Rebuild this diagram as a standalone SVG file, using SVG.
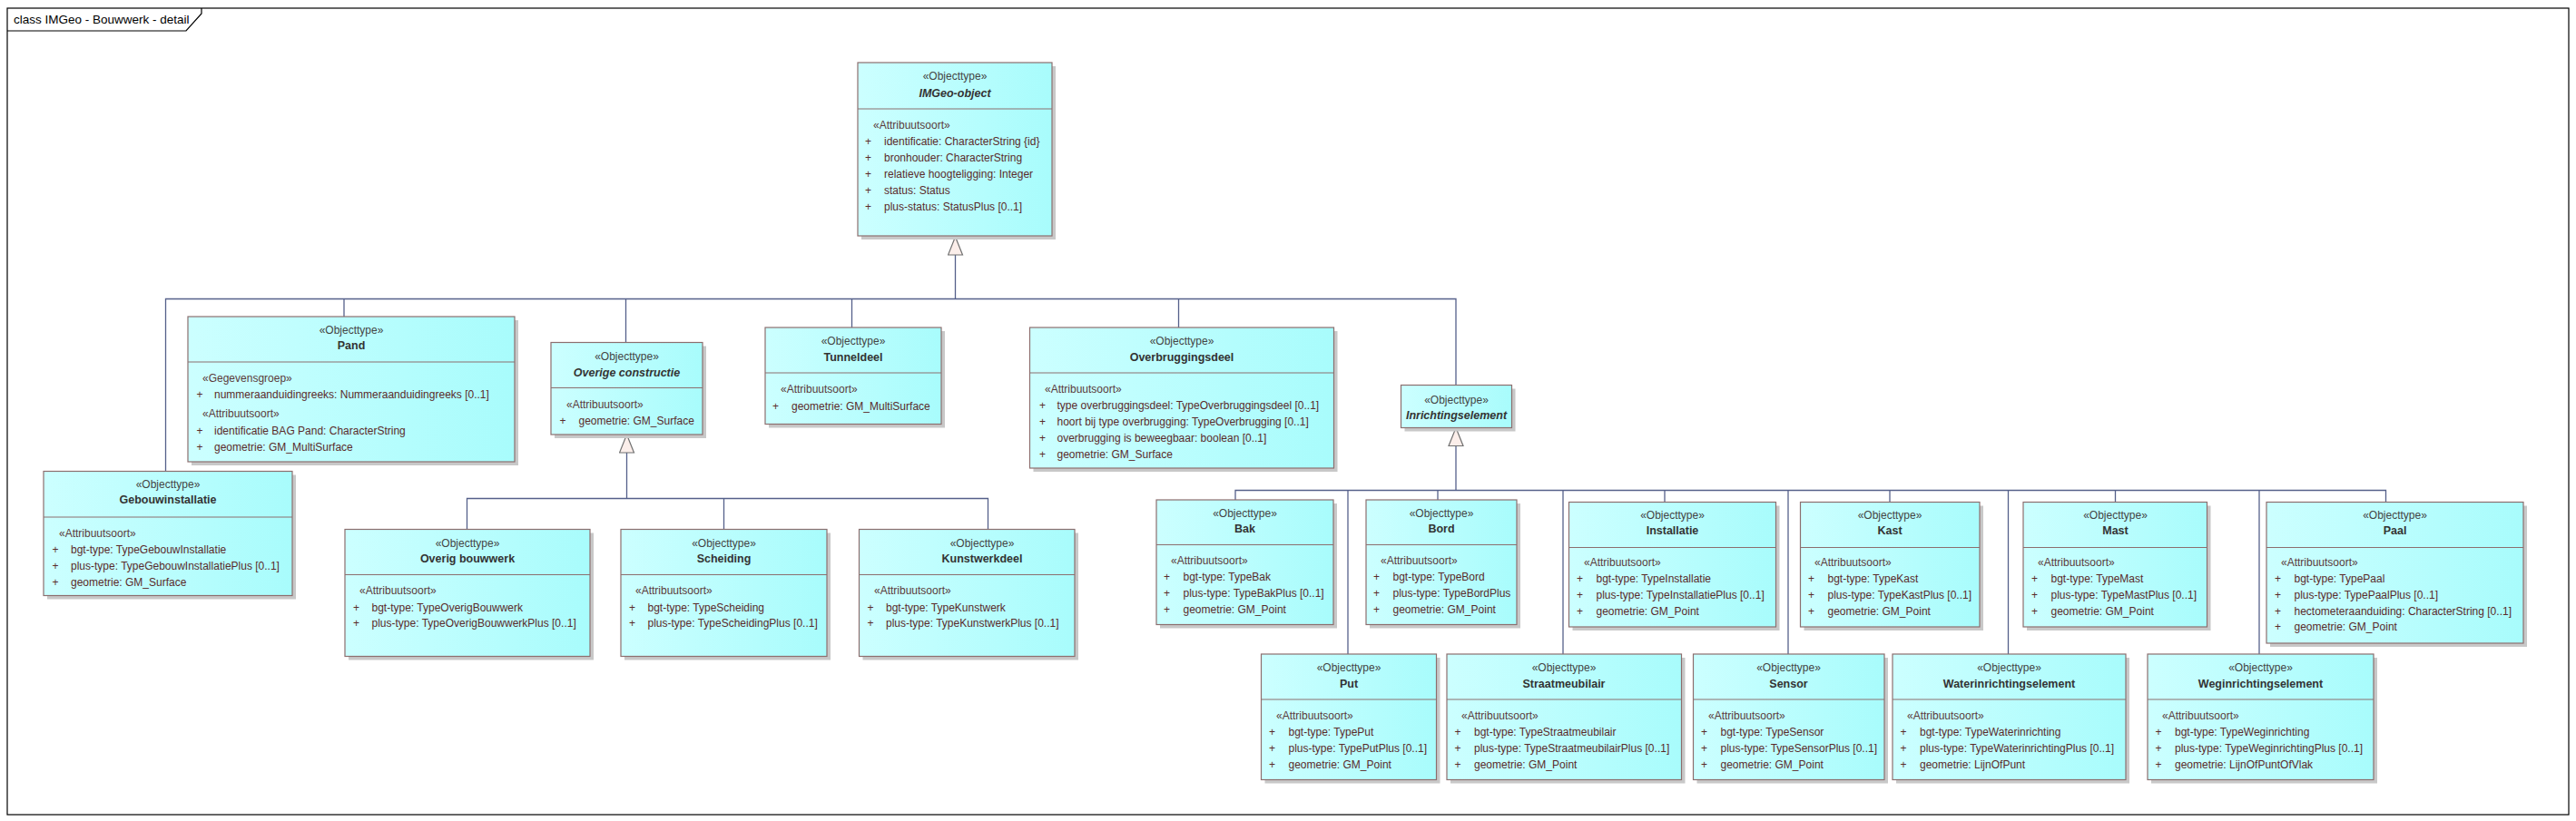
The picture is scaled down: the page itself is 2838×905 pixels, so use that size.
<svg xmlns="http://www.w3.org/2000/svg" width="2838" height="905" viewBox="0 0 2838 905">
<style>
text{font-family:"Liberation Sans",Arial,sans-serif;}
.title{font-size:13.5px;fill:#000;}
.box{stroke:#8c6e6e;stroke-width:1.2;fill:url(#g);}
.sh{fill:#c8c8c8;}
.dv{stroke:#8c6e6e;stroke-width:1.2;}
.st{font-size:12px;fill:#444;text-anchor:middle;}
.nm{font-size:12.5px;font-weight:bold;fill:#333;text-anchor:middle;}
.it{font-style:italic;}
.as{font-size:12px;fill:#5a3a3a;}
.at{font-size:12px;fill:#5a2a2a;}
.cn{stroke:#55608a;stroke-width:1.3;fill:none;}
</style>
<defs>
<linearGradient id="g" x1="0" y1="0" x2="1" y2="0">
<stop offset="0" stop-color="#ccffff"/>
<stop offset="1" stop-color="#a8fcfc"/>
</linearGradient>
<marker id="gen" markerUnits="userSpaceOnUse" viewBox="0 0 22 18" refX="21" refY="9" markerWidth="22" markerHeight="18" orient="auto">
<path d="M1,1 L21,9 L1,17 Z" fill="#fbeeea" stroke="#707070" stroke-width="1.2"/>
</marker>
</defs>
<rect x="0" y="0" width="2838" height="905" fill="#fff"/>
<g id="frame">
<rect x="8" y="9" width="2822" height="889" fill="none" stroke="#000" stroke-width="1.2"/>
<path d="M8,34 H205 L222,15 V9" fill="none" stroke="#000" stroke-width="1.2"/>
<text class="title" x="15" y="25.5">class IMGeo - Bouwwerk - detail</text>
</g>
<g id="connectors">
<path class="cn" d="M182.5,519.5 V329.5 H1604 V424.5"/>
<path class="cn" d="M379,329.5 V349"/>
<path class="cn" d="M689.5,329.5 V377.5"/>
<path class="cn" d="M938.5,329.5 V361"/>
<path class="cn" d="M1298.5,329.5 V361"/>
<path class="cn" d="M1052.5,329.5 V261" marker-end="url(#gen)"/>
<path class="cn" d="M514.5,583.5 V549.5 H1088.5 V583.5"/>
<path class="cn" d="M797.5,549.5 V583.5"/>
<path class="cn" d="M690.5,549.5 V479" marker-end="url(#gen)"/>
<path class="cn" d="M1361,551 V540.5 H2628.5 V553.5"/>
<path class="cn" d="M1604,540.5 V471.5" marker-end="url(#gen)"/>
<path class="cn" d="M1485,540.5 V721"/>
<path class="cn" d="M1584,540.5 V551"/>
<path class="cn" d="M1722,540.5 V721"/>
<path class="cn" d="M1834,540.5 V553.5"/>
<path class="cn" d="M1970,540.5 V721"/>
<path class="cn" d="M2082,540.5 V553.5"/>
<path class="cn" d="M2212.5,540.5 V721"/>
<path class="cn" d="M2330.5,540.5 V553.5"/>
<path class="cn" d="M2489,540.5 V721"/>
</g>
<g id="imgeo-object">
<rect class="sh" x="949" y="73" width="214" height="191"/>
<rect class="box" x="945" y="69" width="214" height="191"/>
<line class="dv" x1="945" y1="120" x2="1159" y2="120"/>
<text class="st" x="1052" y="88">«Objecttype»</text>
<text class="nm it" x="1052" y="106.5">IMGeo-object</text>
<text class="as" x="962" y="141.7">«Attribuutsoort»</text>
<text class="at" x="953" y="159.5">+</text><text class="at" x="974" y="159.5">identificatie: CharacterString {id}</text>
<text class="at" x="953" y="177.5">+</text><text class="at" x="974" y="177.5">bronhouder: CharacterString</text>
<text class="at" x="953" y="195.5">+</text><text class="at" x="974" y="195.5">relatieve hoogteligging: Integer</text>
<text class="at" x="953" y="213.5">+</text><text class="at" x="974" y="213.5">status: Status</text>
<text class="at" x="953" y="231.5">+</text><text class="at" x="974" y="231.5">plus-status: StatusPlus [0..1]</text>
</g>
<g id="pand">
<rect class="sh" x="211" y="353" width="360" height="160"/>
<rect class="box" x="207" y="349" width="360" height="160"/>
<line class="dv" x1="207" y1="399" x2="567" y2="399"/>
<text class="st" x="387" y="368">«Objecttype»</text>
<text class="nm" x="387" y="385">Pand</text>
<text class="as" x="223" y="420.7">«Gegevensgroep»</text>
<text class="at" x="216.5" y="439">+</text><text class="at" x="236" y="439">nummeraanduidingreeks: Nummeraanduidingreeks [0..1]</text>
<text class="as" x="223" y="459.5">«Attribuutsoort»</text>
<text class="at" x="216.5" y="478.5">+</text><text class="at" x="236" y="478.5">identificatie BAG Pand: CharacterString</text>
<text class="at" x="216.5" y="496.5">+</text><text class="at" x="236" y="496.5">geometrie: GM_MultiSurface</text>
</g>
<g id="gebouwinstallatie">
<rect class="sh" x="52" y="523.5" width="274" height="137"/>
<rect class="box" x="48" y="519.5" width="274" height="137"/>
<line class="dv" x1="48" y1="570" x2="322" y2="570"/>
<text class="st" x="185" y="537.5">«Objecttype»</text>
<text class="nm" x="185" y="555">Gebouwinstallatie</text>
<text class="as" x="65" y="591.5">«Attribuutsoort»</text>
<text class="at" x="57.5" y="610">+</text><text class="at" x="78" y="610">bgt-type: TypeGebouwInstallatie</text>
<text class="at" x="57.5" y="628">+</text><text class="at" x="78" y="628">plus-type: TypeGebouwInstallatiePlus [0..1]</text>
<text class="at" x="57.5" y="646">+</text><text class="at" x="78" y="646">geometrie: GM_Surface</text>
</g>
<g id="overige-constructie">
<rect class="sh" x="611" y="381.5" width="167" height="101.5"/>
<rect class="box" x="607" y="377.5" width="167" height="101.5"/>
<line class="dv" x1="607" y1="427.5" x2="774" y2="427.5"/>
<text class="st" x="690.5" y="396.5">«Objecttype»</text>
<text class="nm it" x="690.5" y="415">Overige constructie</text>
<text class="as" x="624" y="450">«Attribuutsoort»</text>
<text class="at" x="616.5" y="468">+</text><text class="at" x="637.5" y="468">geometrie: GM_Surface</text>
</g>
<g id="tunneldeel">
<rect class="sh" x="847" y="365" width="194" height="106.5"/>
<rect class="box" x="843" y="361" width="194" height="106.5"/>
<line class="dv" x1="843" y1="411" x2="1037" y2="411"/>
<text class="st" x="940" y="379.5">«Objecttype»</text>
<text class="nm" x="940" y="398">Tunneldeel</text>
<text class="as" x="860" y="433">«Attribuutsoort»</text>
<text class="at" x="851" y="451.5">+</text><text class="at" x="872" y="451.5">geometrie: GM_MultiSurface</text>
</g>
<g id="overbruggingsdeel">
<rect class="sh" x="1138.5" y="365" width="335" height="155"/>
<rect class="box" x="1134.5" y="361" width="335" height="155"/>
<line class="dv" x1="1134.5" y1="411" x2="1469.5" y2="411"/>
<text class="st" x="1302" y="379.5">«Objecttype»</text>
<text class="nm" x="1302" y="397.5">Overbruggingsdeel</text>
<text class="as" x="1151" y="433">«Attribuutsoort»</text>
<text class="at" x="1145" y="451">+</text><text class="at" x="1164.5" y="451">type overbruggingsdeel: TypeOverbruggingsdeel [0..1]</text>
<text class="at" x="1145" y="469">+</text><text class="at" x="1164.5" y="469">hoort bij type overbrugging: TypeOverbrugging [0..1]</text>
<text class="at" x="1145" y="487">+</text><text class="at" x="1164.5" y="487">overbrugging is beweegbaar: boolean [0..1]</text>
<text class="at" x="1145" y="505">+</text><text class="at" x="1164.5" y="505">geometrie: GM_Surface</text>
</g>
<g id="inrichtingselement">
<rect class="sh" x="1547.5" y="428.5" width="122" height="47"/>
<rect class="box" x="1543.5" y="424.5" width="122" height="47"/>
<text class="st" x="1604.5" y="445">«Objecttype»</text>
<text class="nm it" x="1604.5" y="462">Inrichtingselement</text>
</g>
<g id="overig-bouwwerk">
<rect class="sh" x="384" y="587.5" width="270" height="140"/>
<rect class="box" x="380" y="583.5" width="270" height="140"/>
<line class="dv" x1="380" y1="633.5" x2="650" y2="633.5"/>
<text class="st" x="515" y="602.5">«Objecttype»</text>
<text class="nm" x="515" y="620">Overig bouwwerk</text>
<text class="as" x="396" y="655">«Attribuutsoort»</text>
<text class="at" x="389" y="673.5">+</text><text class="at" x="409.5" y="673.5">bgt-type: TypeOverigBouwwerk</text>
<text class="at" x="389" y="691">+</text><text class="at" x="409.5" y="691">plus-type: TypeOverigBouwwerkPlus [0..1]</text>
</g>
<g id="scheiding">
<rect class="sh" x="688" y="587.5" width="227" height="140"/>
<rect class="box" x="684" y="583.5" width="227" height="140"/>
<line class="dv" x1="684" y1="633.5" x2="911" y2="633.5"/>
<text class="st" x="797.5" y="602.5">«Objecttype»</text>
<text class="nm" x="797.5" y="620">Scheiding</text>
<text class="as" x="700" y="655">«Attribuutsoort»</text>
<text class="at" x="693" y="673.5">+</text><text class="at" x="713.5" y="673.5">bgt-type: TypeScheiding</text>
<text class="at" x="693" y="691">+</text><text class="at" x="713.5" y="691">plus-type: TypeScheidingPlus [0..1]</text>
</g>
<g id="kunstwerkdeel">
<rect class="sh" x="950.5" y="587.5" width="237.5" height="140"/>
<rect class="box" x="946.5" y="583.5" width="237.5" height="140"/>
<line class="dv" x1="946.5" y1="633.5" x2="1184" y2="633.5"/>
<text class="st" x="1082" y="602.5">«Objecttype»</text>
<text class="nm" x="1082" y="620">Kunstwerkdeel</text>
<text class="as" x="963" y="655">«Attribuutsoort»</text>
<text class="at" x="955.5" y="673.5">+</text><text class="at" x="976" y="673.5">bgt-type: TypeKunstwerk</text>
<text class="at" x="955.5" y="691">+</text><text class="at" x="976" y="691">plus-type: TypeKunstwerkPlus [0..1]</text>
</g>
<g id="bak">
<rect class="sh" x="1278" y="555" width="195" height="137.5"/>
<rect class="box" x="1274" y="551" width="195" height="137.5"/>
<line class="dv" x1="1274" y1="600.5" x2="1469" y2="600.5"/>
<text class="st" x="1371.5" y="569.5">«Objecttype»</text>
<text class="nm" x="1371.5" y="587">Bak</text>
<text class="as" x="1290" y="621.7">«Attribuutsoort»</text>
<text class="at" x="1282" y="639.5">+</text><text class="at" x="1303.5" y="639.5">bgt-type: TypeBak</text>
<text class="at" x="1282" y="657.5">+</text><text class="at" x="1303.5" y="657.5">plus-type: TypeBakPlus [0..1]</text>
<text class="at" x="1282" y="675.5">+</text><text class="at" x="1303.5" y="675.5">geometrie: GM_Point</text>
</g>
<g id="bord">
<rect class="sh" x="1509" y="555" width="166" height="137.5"/>
<rect class="box" x="1505" y="551" width="166" height="137.5"/>
<line class="dv" x1="1505" y1="600.5" x2="1671" y2="600.5"/>
<text class="st" x="1588" y="569.5">«Objecttype»</text>
<text class="nm" x="1588" y="587">Bord</text>
<text class="as" x="1521" y="621.7">«Attribuutsoort»</text>
<text class="at" x="1513" y="639.5">+</text><text class="at" x="1534.5" y="639.5">bgt-type: TypeBord</text>
<text class="at" x="1513" y="657.5">+</text><text class="at" x="1534.5" y="657.5">plus-type: TypeBordPlus</text>
<text class="at" x="1513" y="675.5">+</text><text class="at" x="1534.5" y="675.5">geometrie: GM_Point</text>
</g>
<g id="installatie">
<rect class="sh" x="1732.5" y="557.5" width="228" height="137.5"/>
<rect class="box" x="1728.5" y="553.5" width="228" height="137.5"/>
<line class="dv" x1="1728.5" y1="603.5" x2="1956.5" y2="603.5"/>
<text class="st" x="1842.5" y="572">«Objecttype»</text>
<text class="nm" x="1842.5" y="589">Installatie</text>
<text class="as" x="1745" y="624">«Attribuutsoort»</text>
<text class="at" x="1737" y="642">+</text><text class="at" x="1758.5" y="642">bgt-type: TypeInstallatie</text>
<text class="at" x="1737" y="660">+</text><text class="at" x="1758.5" y="660">plus-type: TypeInstallatiePlus [0..1]</text>
<text class="at" x="1737" y="677.5">+</text><text class="at" x="1758.5" y="677.5">geometrie: GM_Point</text>
</g>
<g id="kast">
<rect class="sh" x="1987.5" y="557.5" width="197.5" height="137.5"/>
<rect class="box" x="1983.5" y="553.5" width="197.5" height="137.5"/>
<line class="dv" x1="1983.5" y1="603.5" x2="2181" y2="603.5"/>
<text class="st" x="2082" y="572">«Objecttype»</text>
<text class="nm" x="2082" y="589">Kast</text>
<text class="as" x="1999" y="624">«Attribuutsoort»</text>
<text class="at" x="1992" y="642">+</text><text class="at" x="2013.5" y="642">bgt-type: TypeKast</text>
<text class="at" x="1992" y="660">+</text><text class="at" x="2013.5" y="660">plus-type: TypeKastPlus [0..1]</text>
<text class="at" x="1992" y="677.5">+</text><text class="at" x="2013.5" y="677.5">geometrie: GM_Point</text>
</g>
<g id="mast">
<rect class="sh" x="2233" y="557.5" width="202.5" height="137.5"/>
<rect class="box" x="2229" y="553.5" width="202.5" height="137.5"/>
<line class="dv" x1="2229" y1="603.5" x2="2431.5" y2="603.5"/>
<text class="st" x="2330.5" y="572">«Objecttype»</text>
<text class="nm" x="2330.5" y="589">Mast</text>
<text class="as" x="2245" y="624">«Attribuutsoort»</text>
<text class="at" x="2238" y="642">+</text><text class="at" x="2259.5" y="642">bgt-type: TypeMast</text>
<text class="at" x="2238" y="660">+</text><text class="at" x="2259.5" y="660">plus-type: TypeMastPlus [0..1]</text>
<text class="at" x="2238" y="677.5">+</text><text class="at" x="2259.5" y="677.5">geometrie: GM_Point</text>
</g>
<g id="paal">
<rect class="sh" x="2501" y="557.5" width="283" height="155.5"/>
<rect class="box" x="2497" y="553.5" width="283" height="155.5"/>
<line class="dv" x1="2497" y1="603.5" x2="2780" y2="603.5"/>
<text class="st" x="2638.5" y="572">«Objecttype»</text>
<text class="nm" x="2638.5" y="589">Paal</text>
<text class="as" x="2513" y="624">«Attribuutsoort»</text>
<text class="at" x="2506" y="642">+</text><text class="at" x="2527.5" y="642">bgt-type: TypePaal</text>
<text class="at" x="2506" y="660">+</text><text class="at" x="2527.5" y="660">plus-type: TypePaalPlus [0..1]</text>
<text class="at" x="2506" y="677.5">+</text><text class="at" x="2527.5" y="677.5">hectometeraanduiding: CharacterString [0..1]</text>
<text class="at" x="2506" y="695">+</text><text class="at" x="2527.5" y="695">geometrie: GM_Point</text>
</g>
<g id="put">
<rect class="sh" x="1393.5" y="725" width="193" height="138.5"/>
<rect class="box" x="1389.5" y="721" width="193" height="138.5"/>
<line class="dv" x1="1389.5" y1="771" x2="1582.5" y2="771"/>
<text class="st" x="1486" y="740">«Objecttype»</text>
<text class="nm" x="1486" y="757.5">Put</text>
<text class="as" x="1406" y="792.7">«Attribuutsoort»</text>
<text class="at" x="1398" y="810.5">+</text><text class="at" x="1419.5" y="810.5">bgt-type: TypePut</text>
<text class="at" x="1398" y="828.5">+</text><text class="at" x="1419.5" y="828.5">plus-type: TypePutPlus [0..1]</text>
<text class="at" x="1398" y="846.5">+</text><text class="at" x="1419.5" y="846.5">geometrie: GM_Point</text>
</g>
<g id="straatmeubilair">
<rect class="sh" x="1598" y="725" width="258.5" height="138.5"/>
<rect class="box" x="1594" y="721" width="258.5" height="138.5"/>
<line class="dv" x1="1594" y1="771" x2="1852.5" y2="771"/>
<text class="st" x="1723" y="740">«Objecttype»</text>
<text class="nm" x="1723" y="757.5">Straatmeubilair</text>
<text class="as" x="1610" y="792.7">«Attribuutsoort»</text>
<text class="at" x="1602.5" y="810.5">+</text><text class="at" x="1624" y="810.5">bgt-type: TypeStraatmeubilair</text>
<text class="at" x="1602.5" y="828.5">+</text><text class="at" x="1624" y="828.5">plus-type: TypeStraatmeubilairPlus [0..1]</text>
<text class="at" x="1602.5" y="846.5">+</text><text class="at" x="1624" y="846.5">geometrie: GM_Point</text>
</g>
<g id="sensor">
<rect class="sh" x="1869.5" y="725" width="210.5" height="138.5"/>
<rect class="box" x="1865.5" y="721" width="210.5" height="138.5"/>
<line class="dv" x1="1865.5" y1="771" x2="2076" y2="771"/>
<text class="st" x="1970.5" y="740">«Objecttype»</text>
<text class="nm" x="1970.5" y="757.5">Sensor</text>
<text class="as" x="1882" y="792.7">«Attribuutsoort»</text>
<text class="at" x="1874" y="810.5">+</text><text class="at" x="1895.5" y="810.5">bgt-type: TypeSensor</text>
<text class="at" x="1874" y="828.5">+</text><text class="at" x="1895.5" y="828.5">plus-type: TypeSensorPlus [0..1]</text>
<text class="at" x="1874" y="846.5">+</text><text class="at" x="1895.5" y="846.5">geometrie: GM_Point</text>
</g>
<g id="waterinrichtingselement">
<rect class="sh" x="2089" y="725" width="257" height="138.5"/>
<rect class="box" x="2085" y="721" width="257" height="138.5"/>
<line class="dv" x1="2085" y1="771" x2="2342" y2="771"/>
<text class="st" x="2213.5" y="740">«Objecttype»</text>
<text class="nm" x="2213.5" y="757.5">Waterinrichtingselement</text>
<text class="as" x="2101" y="792.7">«Attribuutsoort»</text>
<text class="at" x="2093.5" y="810.5">+</text><text class="at" x="2115" y="810.5">bgt-type: TypeWaterinrichting</text>
<text class="at" x="2093.5" y="828.5">+</text><text class="at" x="2115" y="828.5">plus-type: TypeWaterinrichtingPlus [0..1]</text>
<text class="at" x="2093.5" y="846.5">+</text><text class="at" x="2115" y="846.5">geometrie: LijnOfPunt</text>
</g>
<g id="weginrichtingselement">
<rect class="sh" x="2370" y="725" width="249" height="138.5"/>
<rect class="box" x="2366" y="721" width="249" height="138.5"/>
<line class="dv" x1="2366" y1="771" x2="2615" y2="771"/>
<text class="st" x="2490.5" y="740">«Objecttype»</text>
<text class="nm" x="2490.5" y="757.5">Weginrichtingselement</text>
<text class="as" x="2382" y="792.7">«Attribuutsoort»</text>
<text class="at" x="2374.5" y="810.5">+</text><text class="at" x="2396" y="810.5">bgt-type: TypeWeginrichting</text>
<text class="at" x="2374.5" y="828.5">+</text><text class="at" x="2396" y="828.5">plus-type: TypeWeginrichtingPlus [0..1]</text>
<text class="at" x="2374.5" y="846.5">+</text><text class="at" x="2396" y="846.5">geometrie: LijnOfPuntOfVlak</text>
</g>
</svg>
